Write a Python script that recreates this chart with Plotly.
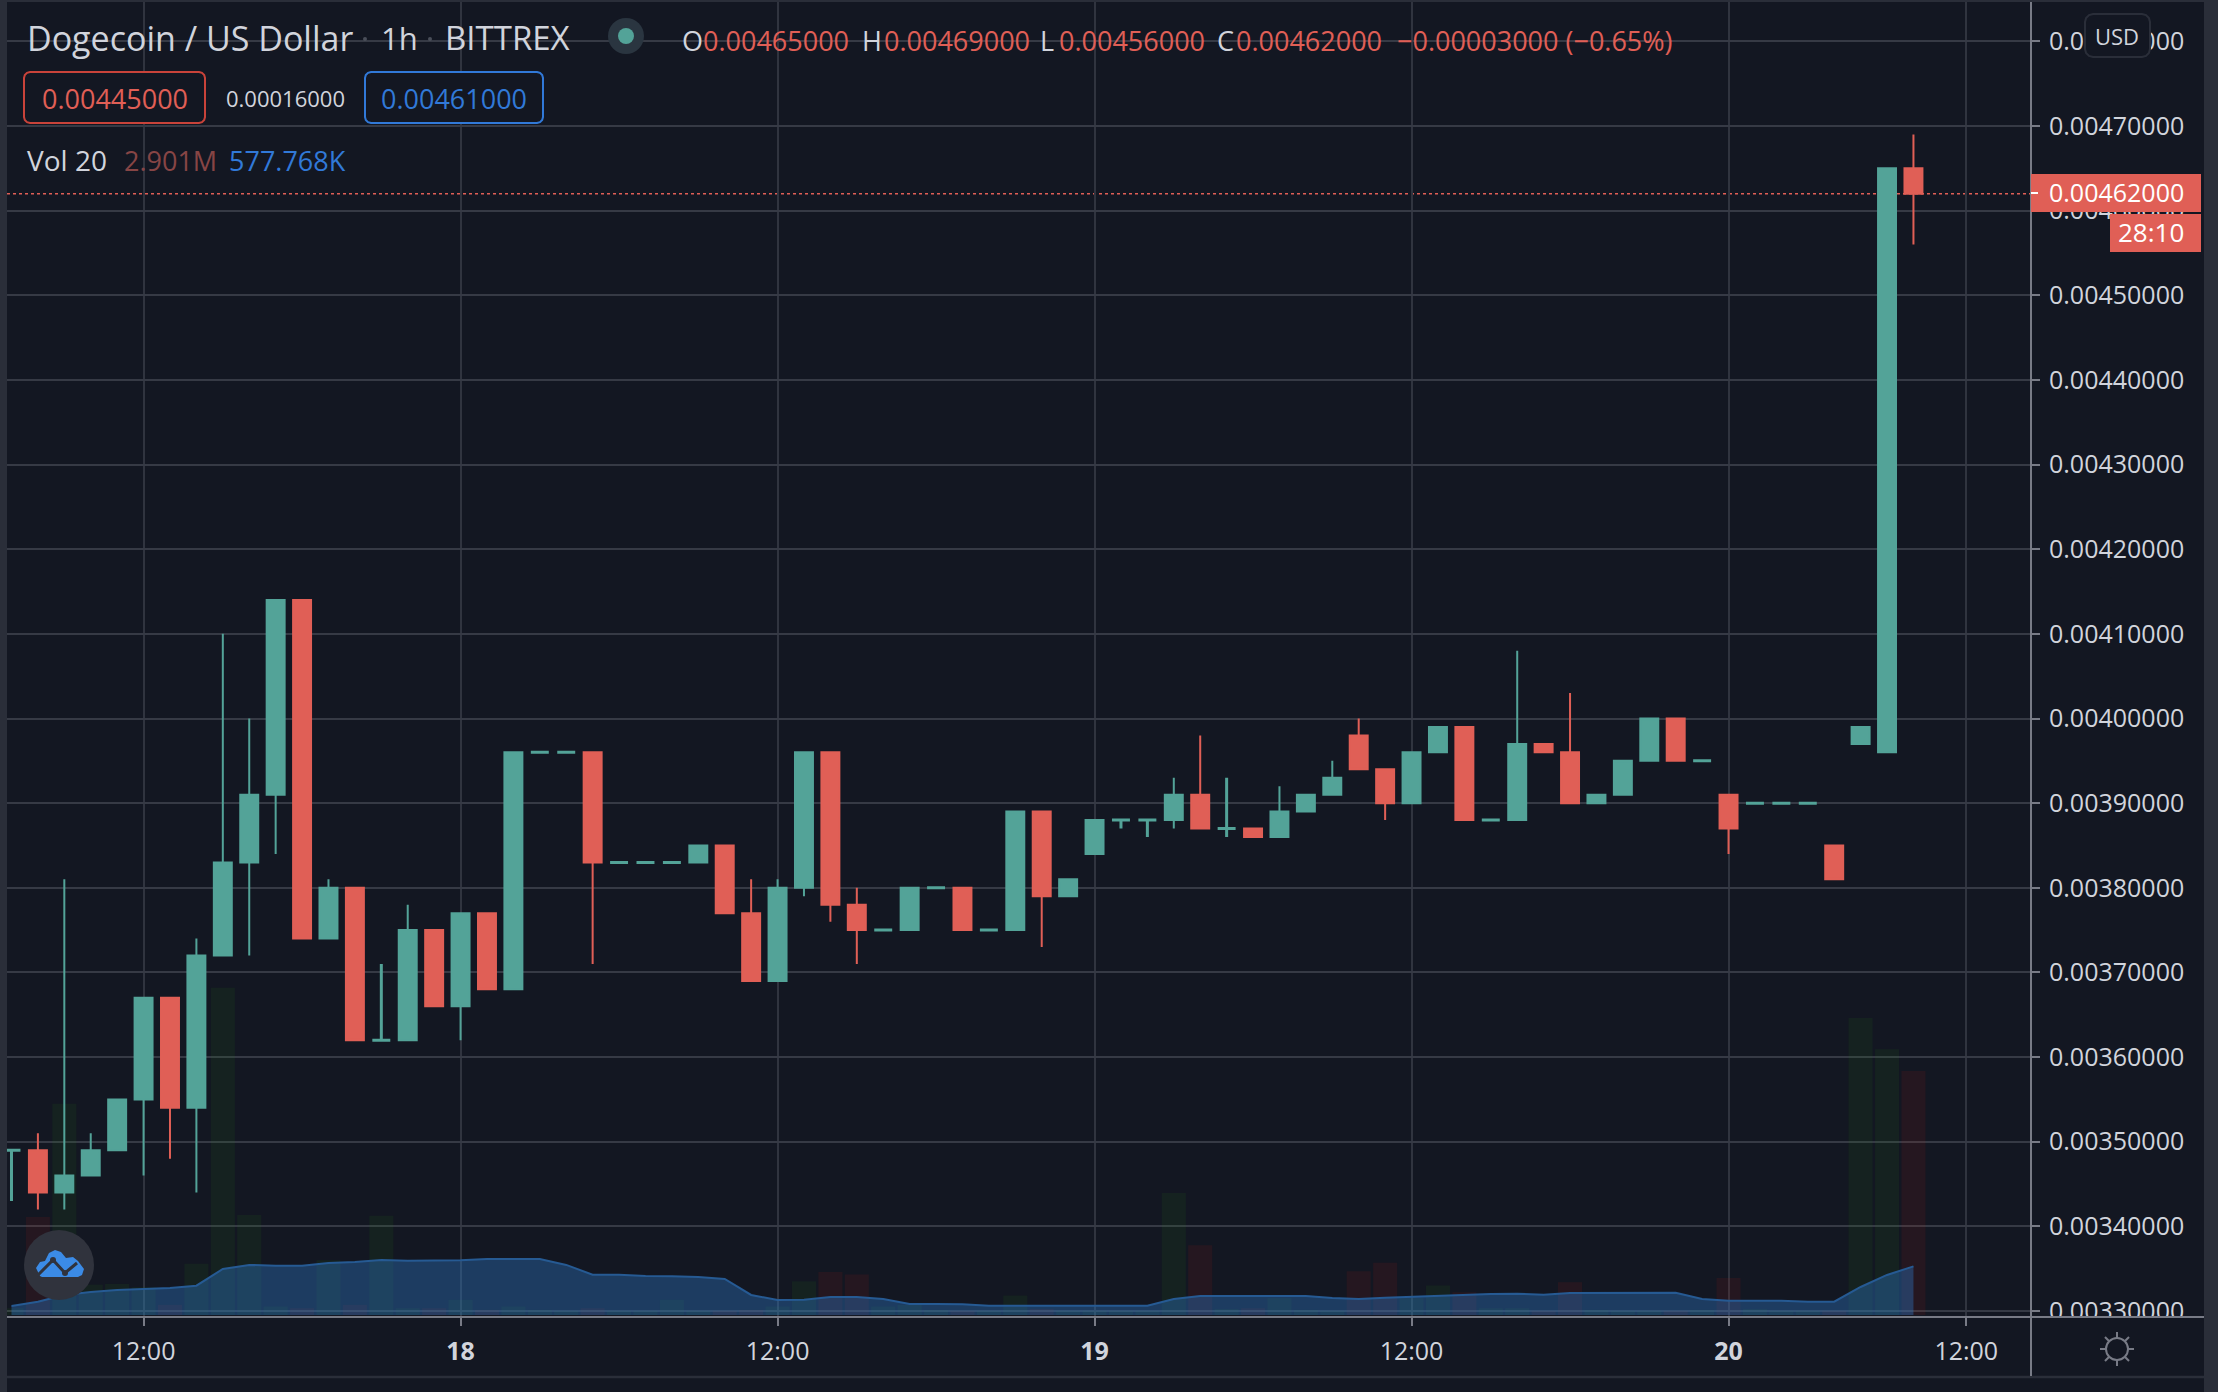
import math

import plotly.graph_objects as go

# OHLC per hourly bar, in units of 0.00001 USD
opens = [349, 349, 344, 346, 349, 355, 367, 354, 372, 383, 391, 414, 374, 380, 362, 362, 375, 366, 377, 368,
         396, 396, 396, 383, 383, 383, 383, 385, 377, 369, 380, 396, 378, 375, 375, 380, 380, 375, 375, 389,
         379, 384, 388, 388, 388, 391, 387, 387, 386, 389, 391, 398, 394, 390, 396, 399, 388, 388, 397, 396,
         390, 391, 395, 400, 395, 391, 390, 390, 390, 385, 397, 396, 465]
highs = [349, 351, 381, 351, 355, 367, 367, 374, 410, 400, 414, 414, 381, 380, 371, 378, 375, 377, 377, 396,
         396, 396, 396, 383, 383, 383, 385, 385, 381, 381, 396, 396, 380, 375, 380, 380, 380, 375, 389, 389,
         381, 388, 388, 388, 393, 398, 393, 387, 392, 391, 395, 400, 394, 396, 399, 399, 388, 408, 397, 403,
         391, 395, 400, 400, 395, 391, 390, 390, 390, 385, 399, 465, 469]
lows = [343, 342, 342, 346, 349, 346, 348, 344, 372, 372, 384, 374, 374, 362, 362, 362, 366, 362, 368, 368,
        396, 396, 371, 383, 383, 383, 383, 377, 369, 369, 379, 376, 371, 375, 375, 380, 375, 375, 375, 373,
        379, 384, 387, 386, 387, 387, 386, 386, 386, 389, 391, 394, 388, 390, 396, 388, 388, 388, 396, 390,
        390, 391, 395, 395, 395, 384, 390, 390, 390, 381, 397, 396, 456]
closes = [349, 344, 346, 349, 355, 367, 354, 372, 383, 391, 414, 374, 380, 362, 362, 375, 366, 377, 368, 396,
          396, 396, 383, 383, 383, 383, 385, 377, 369, 380, 396, 378, 375, 375, 380, 380, 375, 375, 389, 379,
          381, 388, 388, 388, 391, 387, 387, 386, 389, 391, 393, 394, 390, 396, 399, 388, 388, 397, 396, 390,
          391, 395, 400, 395, 395, 387, 390, 390, 390, 381, 399, 465, 462]

# volume in millions, and its 20 bar average
volumes = [0.08, 1.165, 2.51, 0.36, 0.37, 0.33, 0.12, 0.61, 3.89, 1.19, 0.10, 0.08, 0.65, 0.12, 1.18, 0.08, 0.08,
           0.18, 0.06, 0.10, 0.06, 0.05, 0.08, 0.05, 0.05, 0.18, 0.05, 0.05, 0.06, 0.10, 0.40, 0.51, 0.48, 0.10,
           0.12, 0.06, 0.05, 0.05, 0.23, 0.07, 0.05, 0.05, 0.05, 0.05, 1.45, 0.83, 0.07, 0.08, 0.20, 0.06, 0.05,
           0.52, 0.62, 0.20, 0.35, 0.27, 0.08, 0.08, 0.05, 0.39, 0.06, 0.05, 0.05, 0.05, 0.06, 0.44, 0.07, 0.05,
           0.05, 0.05, 3.53, 3.16, 2.901]
volume_ma = [0.107, 0.158, 0.238, 0.273, 0.297, 0.313, 0.321, 0.348, 0.547, 0.595, 0.586, 0.586, 0.618, 0.630,
             0.654, 0.646, 0.646, 0.650, 0.666, 0.666, 0.666, 0.595, 0.479, 0.479, 0.464, 0.460, 0.452, 0.428,
             0.238, 0.178, 0.182, 0.214, 0.214, 0.190, 0.131, 0.131, 0.127, 0.111, 0.111, 0.111, 0.111, 0.111,
             0.111, 0.111, 0.190, 0.226, 0.226, 0.226, 0.226, 0.226, 0.202, 0.190, 0.206, 0.218, 0.229, 0.246,
             0.250, 0.253, 0.241, 0.262, 0.262, 0.258, 0.262, 0.265, 0.190, 0.170, 0.170, 0.170, 0.158, 0.158,
             0.333, 0.476, 0.578]

# bar index of each time label (the last one really sits only 9 bars after "20")
tick_bars = [5, 17, 29, 41, 53, 65, 74]
tick_labels = ["12:00", "<b>18</b>", "12:00", "<b>19</b>", "12:00", "<b>20</b>", "12:00"]

PRICE_UNIT = 1e-5
BG = "#131722"
PANEL = "#2A2E39"
GRID = "#363A45"
AXIS = "#787B86"
TEXT = "#D1D4DC"
UP = "#53A398"
DOWN = "#E05F56"
BLUE = "#3179D8"
FONT = "Open Sans"

# pane edges in page pixels
LEFT, RIGHT, TOP, BOTTOM = 7, 2031, 2, 1317
WIDTH, HEIGHT = 2218, 1392


def px(x):
    return (x - LEFT) / (RIGHT - LEFT)


def py(y):
    return (BOTTOM - y) / (BOTTOM - TOP)


def rect(x0, y0, x1, y1, fill, line=None, width=0, layer="above"):
    return dict(type="rect", xref="paper", yref="paper", x0=px(x0), x1=px(x1), y0=py(y0), y1=py(y1),
                fillcolor=fill, line=dict(color=line or fill, width=width), layer=layer)


def rounded(x0, y0, x1, y1, r, fill, line, width=2):
    # SVG arcs do not scale right in paper units, so the corners are cut with short chords
    pts = []
    corners = [(x1 - r, y0 + r, -90), (x1 - r, y1 - r, 0), (x0 + r, y1 - r, 90), (x0 + r, y0 + r, 180)]
    for cx, cy, start in corners:
        for step in range(4):
            a = math.radians(start + step * 30)
            pts.append((cx + r * math.cos(a), cy + r * math.sin(a)))
    return poly(pts, fill=fill, line=line, width=width)


def seg(x0, y0, x1, y1, color, width=2, layer="above"):
    return dict(type="line", xref="paper", yref="paper", x0=px(x0), x1=px(x1), y0=py(y0), y1=py(y1),
                line=dict(color=color, width=width), layer=layer)


def circle(cx, cy, r, fill, line=None, width=0):
    return dict(type="circle", xref="paper", yref="paper", x0=px(cx - r), x1=px(cx + r), y0=py(cy - r), y1=py(cy + r),
                fillcolor=fill, line=dict(color=line or fill, width=width), layer="above")


def poly(points, fill="rgba(0,0,0,0)", line=None, width=0, close=True):
    d = "M" + " L".join(f"{px(x):.5f},{py(y):.5f}" for x, y in points) + (" Z" if close else "")
    return dict(type="path", xref="paper", yref="paper", path=d, fillcolor=fill,
                line=dict(color=line or "rgba(0,0,0,0)", width=width), layer="above")


def label(x, y, text, color=TEXT, size=27, anchor="left"):
    return dict(xref="paper", yref="paper", x=px(x), y=py(y), text=text, showarrow=False, xanchor=anchor,
                yanchor="middle", font=dict(family=FONT, size=size, color=color), borderpad=0)


bars = list(range(len(closes)))
up_idx = [i for i in bars if closes[i] > opens[i]]
down_idx = [i for i in bars if closes[i] < opens[i]]
flat_idx = [i for i in bars if closes[i] == opens[i]]


def candles(idx, color, line_width=2):
    return go.Candlestick(
        x=idx,
        open=[opens[i] * PRICE_UNIT for i in idx],
        high=[highs[i] * PRICE_UNIT for i in idx],
        low=[lows[i] * PRICE_UNIT for i in idx],
        close=[closes[i] * PRICE_UNIT for i in idx],
        yaxis="y2",
        whiskerwidth=0,
        increasing=dict(line=dict(color=color, width=line_width), fillcolor=color),
        decreasing=dict(line=dict(color=color, width=line_width), fillcolor=color),
        showlegend=False,
    )


fig = go.Figure()

fig.add_trace(go.Bar(
    x=bars,
    y=volumes,
    width=0.91,
    marker=dict(color=["rgba(40,150,20,0.095)" if closes[i] >= opens[i] else "rgba(200,30,15,0.1)" for i in bars],
                line=dict(width=0)),
    showlegend=False,
))
fig.add_trace(go.Scatter(
    x=bars,
    y=volume_ma,
    mode="lines",
    line=dict(color="#265A93", width=2),
    fill="tozeroy",
    fillcolor="rgba(45,118,192,0.4)",
    showlegend=False,
))
fig.add_trace(candles(up_idx, UP))
fig.add_trace(candles(down_idx, DOWN))
fig.add_trace(candles(flat_idx, UP, 3))

last_price = closes[-1] * PRICE_UNIT

shapes = [
    # last price line
    dict(type="line", xref="paper", yref="y2", x0=0, x1=1, y0=last_price, y1=last_price,
         line=dict(color=DOWN, width=1.5, dash="dot"), layer="below"),
    # hide what falls below the price scale, then the frame
    rect(RIGHT + 1, BOTTOM + 1, 2204, 1377, BG),
    rect(0, 0, LEFT, HEIGHT, PANEL),
    rect(2204, 0, WIDTH, HEIGHT, PANEL),
    rect(0, 0, WIDTH, TOP, PANEL),
    seg(LEFT, 1377, 2204, 1377, PANEL, 2.5),
    seg(LEFT, BOTTOM, 2204, BOTTOM, AXIS, 2),
    seg(RIGHT, TOP, RIGHT, 1376, AXIS, 2),
    # last price tag and countdown
    rect(RIGHT, 174, 2201, 212, DOWN),
    rect(2110, 214, 2201, 252, DOWN),
    seg(RIGHT, 193, RIGHT + 7, 193, "#FFFFFF", 2),
    rounded(2085, 14, 2150, 57, 8, BG, PANEL),
    # title separators and status dot
    circle(365, 39, 2, "#4A4E59"),
    circle(430, 39, 2, "#4A4E59"),
    circle(626, 36, 18, "#2A3540"),
    circle(626, 36, 8, UP),
    # OHLC boxes
    rounded(24, 72, 205, 123, 6, BG, "#C9433A"),
    rounded(365, 72, 543, 123, 6, BG, BLUE),
    # logo
    circle(59, 1265, 35, "#30333D"),
    poly([(40, 1276), (36, 1268), (40, 1262), (45, 1261), (49, 1253), (55, 1250), (61, 1252), (66, 1258), (73, 1257),
          (78, 1261), (84, 1269), (82, 1275), (78, 1277), (42, 1277)], fill="#3B8BE6"),
    poly([(37, 1276), (53, 1260), (65, 1273), (77, 1263)], line="#30333D", width=3, close=False),
    circle(53, 1260, 3, "#30333D"),
    circle(65, 1273, 3, "#30333D"),
    # settings gear
    circle(2117, 1349, 11, BG, AXIS, 2),
]
for k in range(8):
    a = k * math.pi / 4
    shapes.append(seg(2117 + 11 * math.cos(a), 1349 + 11 * math.sin(a),
                      2117 + 17 * math.cos(a), 1349 + 17 * math.sin(a), AXIS, 2))

annotations = [
    label(26, 38, "Dogecoin / US Dollar", size=34),
    label(380, 38, "1h", size=31),
    label(444, 38, "BITTREX", size=33),
    label(681, 40, "O"),
    label(702, 40, "0.00465000", DOWN),
    label(861, 40, "H"),
    label(883, 40, "0.00469000", DOWN),
    label(1039, 40, "L"),
    label(1058, 40, "0.00456000", DOWN),
    label(1216, 40, "C"),
    label(1235, 40, "0.00462000", DOWN),
    label(1396, 40, "\u22120.00003000 (\u22120.65%)", DOWN),
    label(115, 98, "0.00445000", DOWN, anchor="center"),
    label(285, 98, "0.00016000", TEXT, 22, anchor="center"),
    label(454, 98, "0.00461000", BLUE, anchor="center"),
    label(26, 160, "Vol 20", size=28),
    label(123, 160, "2.901M", "#874545"),
    label(228, 160, "577.768K", BLUE),
    label(2116, 192, "0.00462000", "#FFFFFF", 25, anchor="center"),
    label(2151, 232, "28:10", "#FFFFFF", 26, anchor="center"),
    label(2117, 36, "USD", TEXT, 22, anchor="center"),
]

fig.update_layout(
    width=WIDTH,
    height=HEIGHT,
    margin=dict(l=LEFT, r=WIDTH - RIGHT, t=TOP, b=HEIGHT - BOTTOM, pad=0),
    autosize=False,
    paper_bgcolor=BG,
    plot_bgcolor=BG,
    font=dict(family=FONT, color=TEXT, size=24),
    showlegend=False,
    barmode="overlay",
    boxgap=0.32,
    boxgroupgap=0,
    hovermode=False,
    shapes=shapes,
    annotations=annotations,
    xaxis=dict(
        range=[-0.17, 76.45],
        tickmode="array",
        tickvals=tick_bars,
        ticktext=tick_labels,
        ticks="outside",
        ticklen=8,
        tickwidth=1.5,
        tickcolor=AXIS,
        tickfont=dict(family=FONT, size=25, color=TEXT),
        ticklabelstandoff=4,
        showgrid=True,
        gridcolor="#30343F",
        gridwidth=2,
        zeroline=False,
        showline=False,
        rangeslider=dict(visible=False),
    ),
    # volume scale, hidden
    yaxis=dict(range=[-0.024, 15.61], visible=False, fixedrange=True),
    yaxis2=dict(
        overlaying="y",
        side="right",
        anchor="x",
        range=[0.0032929, 0.0048465],
        tickmode="linear",
        tick0=0,
        dtick=0.0001,
        tickformat=".8f",
        ticks="outside",
        ticklen=8,
        tickwidth=2,
        tickcolor=AXIS,
        tickfont=dict(family=FONT, size=25, color=TEXT),
        ticklabelstandoff=4,
        showgrid=True,
        gridcolor=GRID,
        gridwidth=2,
        zeroline=False,
        showline=False,
    ),
)

fig.write_html("out.html", config=dict(displayModeBar=False),
               post_script="document.body.style.margin='0';document.body.style.overflow='hidden';")
